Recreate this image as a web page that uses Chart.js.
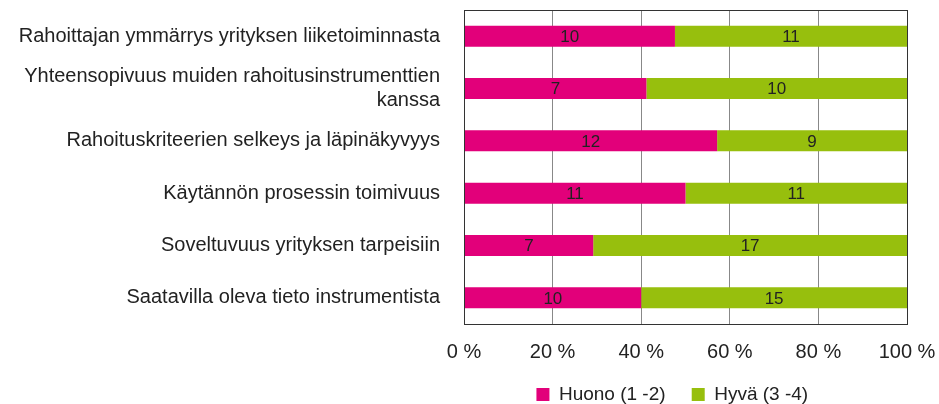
<!DOCTYPE html>
<html>
<head>
<meta charset="utf-8">
<script src="https://cdn.jsdelivr.net/npm/chart.js@4.4.0/dist/chart.umd.min.js"></script>
<style>
  html, body { margin: 0; padding: 0; background: #fff; }
  #wrap { width: 939px; height: 404px; }
</style>
</head>
<body>
<div id="wrap"><canvas id="myChart"></canvas></div>
<script>
const categories = [
    "Rahoittajan ymmärrys yrityksen liiketoiminnasta",
    ["Yhteensopivuus muiden rahoitusinstrumenttien", "kanssa"],
    "Rahoituskriteerien selkeys ja läpinäkyvyys",
    "Käytännön prosessin toimivuus",
    "Soveltuvuus yrityksen tarpeisiin",
    "Saatavilla oleva tieto instrumentista"
]
const huono = [10, 7, 12, 11, 7, 10]
const hyva = [11, 10, 9, 11, 17, 15]
const seriesNames = ["Huono (1 -2)", "Hyvä (3 -4)"]

const font = "'Liberation Sans', Arial, sans-serif"

// shares of each row, the counts are printed on the bars
const huonoPct = huono.map((v, i) => v / (v + hyva[i]) * 100)
const hyvaPct = hyva.map((v, i) => v / (huono[i] + v) * 100)
const counts = [huono, hyva]

const barLabels = {
    id: "barLabels",
    afterDatasetsDraw(chart) {
        const ctx = chart.ctx
        ctx.save()
        ctx.font = "17px " + font
        ctx.fillStyle = "#222"
        ctx.textAlign = "center"
        ctx.textBaseline = "middle"
        chart.data.datasets.forEach((ds, di) => {
            chart.getDatasetMeta(di).data.forEach((bar, i) => {
                const mid = (bar.x + bar.base) / 2
                ctx.fillText(counts[di][i], mid, bar.y + 1)
            })
        })
        ctx.restore()
    }
}

const plotBox = {
    id: "plotBox",
    afterDraw(chart) {
        const a = chart.chartArea
        const ctx = chart.ctx
        ctx.save()
        ctx.strokeStyle = "#333"
        ctx.lineWidth = 1
        ctx.strokeRect(Math.round(a.left) + 0.5, Math.round(a.top) + 0.5, Math.round(a.right - a.left), Math.round(a.bottom - a.top))
        ctx.restore()
    }
}

new Chart(document.getElementById("myChart"), {
    type: "bar",
    data: {
        labels: categories,
        datasets: [{
            label: seriesNames[0],
            data: huonoPct,
            backgroundColor: "#e2007a"
        }, {
            label: seriesNames[1],
            data: hyvaPct,
            backgroundColor: "#97bf0d"
        }]
    },
    options: {
        indexAxis: "y",
        responsive: true,
        maintainAspectRatio: false,
        animation: false,
        barPercentage: 0.4,
        categoryPercentage: 1,
        layout: { padding: { top: 10, right: 32, left: 0, bottom: -10 } },
        plugins: {
            tooltip: { enabled: false },
            legend: {
                position: "bottom",
                fullSize: false,
                labels: {
                    color: "#222",
                    font: { family: font, size: 19 },
                    boxWidth: 13,
                    boxHeight: 13,
                    padding: 5,
                    generateLabels(chart) {
                        // extra spaces widen the gap between the items like in the original
                        const items = Chart.defaults.plugins.legend.labels.generateLabels(chart)
                        items[0].text += "    "
                        items[1].text += "     "
                        return items
                    }
                }
            }
        },
        scales: {
            x: {
                stacked: true,
                min: 0,
                max: 100,
                ticks: {
                    stepSize: 20,
                    color: "#222",
                    padding: 20,
                    font: { family: font, size: 20, lineHeight: 0.8 },
                    callback: (v) => v + " %"
                },
                grid: { color: "#888", drawTicks: false },
                border: { color: "#333" },
                afterFit(scale) {
                    scale.paddingRight = 0
                    scale.paddingLeft = 0
                }
            },
            y: {
                stacked: true,
                ticks: {
                    color: "#222",
                    padding: 16,
                    font: { family: font, size: 20, lineHeight: 1.2 }
                },
                grid: { display: false },
                border: { color: "#888" },
                afterFit(scale) {
                    scale.width = 464
                    scale.paddingTop = 0
                    scale.paddingBottom = 0
                }
            }
        }
    },
    plugins: [barLabels, plotBox]
})
</script>
</body>
</html>
